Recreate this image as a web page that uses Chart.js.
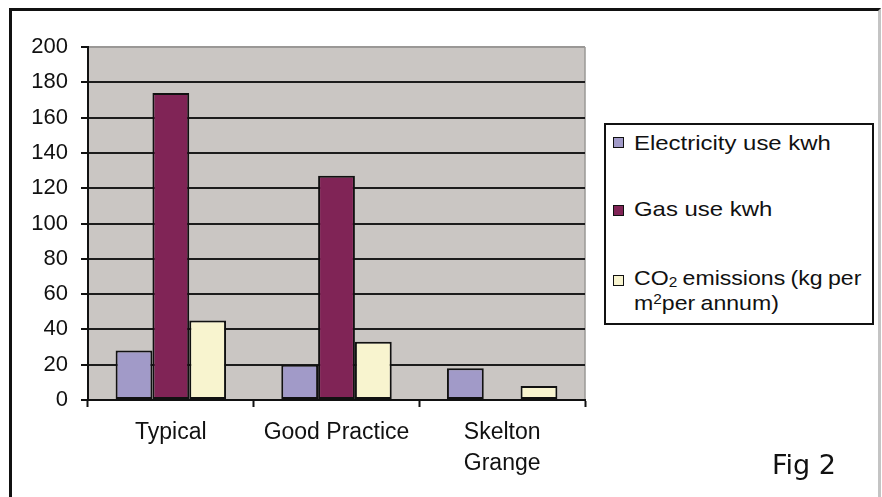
<!DOCTYPE html>
<html>
<head>
<meta charset="utf-8">
<script src="https://cdn.jsdelivr.net/npm/chart.js@4.4.0/dist/chart.umd.min.js"></script>
<style>
  html, body { margin: 0; padding: 0; background: #fff; }
  #wrap { position: relative; width: 882px; height: 497px; overflow: hidden; }
  #frame { position: absolute; left: 9px; top: 8px; width: 866px; height: 500px;
           border-top: 3px solid #111; border-left: 3px solid #111; border-right: 3px solid #c4c4c4; }
  #chartBox { position: absolute; left: 0; top: 0; width: 882px; height: 497px; }
  #legend { position: absolute; left: 604px; top: 123px; width: 266px; height: 198px;
            border: 2px solid #111; background: #fff;
            font-family: "Liberation Sans", Arial, sans-serif; font-size: 21px; color: #111; }
  .swatch { position: absolute; left: 7px; width: 9px; height: 9px; border: 1.5px solid #111; }
  .label { position: absolute; left: 28px; white-space: nowrap; line-height: 25px;
           transform: scaleX(1.14); transform-origin: left top; }
  .label.tight { word-spacing: -1px; transform: scaleX(1.1); }
  .label sub { font-size: 14px; vertical-align: -2px; line-height: 0; }
  .label sup { font-size: 14px; vertical-align: 6px; line-height: 0; }
  #fig { position: absolute; left: 772px; top: 449px; font-family: "DejaVu Sans", sans-serif; font-size: 27px; color: #111; }
</style>
</head>
<body>
<div id="wrap">
  <div id="frame"></div>
  <div id="chartBox"><canvas id="chart"></canvas></div>
  <div id="legend"></div>
  <div id="fig">Fig 2</div>
</div>
<script>
// Categories and series
const categories = ["Typical", "Good Practice", ["Skelton", "Grange"]];
const electricityUse = [28, 20, 18];
const gasUse = [174, 127, 0];
const co2Emissions = [45, 33, 8];
const seriesNames = ["Electricity use kwh", "Gas use kwh", "CO<sub>2</sub> emissions (kg per<br>m<sup>2</sup>per annum)"];
const seriesColors = ["#a19ac8", "#802456", "#f8f4cf"];
const yTicks = [0, 20, 40, 60, 80, 100, 120, 140, 160, 180, 200];

const fontFamily = "'Liberation Sans', Arial, sans-serif";

// grey plot background
const plotBackground = {
    id: "plotBackground",
    beforeDraw(chart) {
        const { ctx, chartArea } = chart;
        ctx.save();
        ctx.fillStyle = "#cac6c3";
        ctx.fillRect(chartArea.left, chartArea.top, chartArea.right - chartArea.left, chartArea.bottom - chartArea.top);
        ctx.strokeStyle = "#9a9896";
        ctx.lineWidth = 1.5;
        ctx.beginPath();
        ctx.moveTo(chartArea.right, chartArea.top);
        ctx.lineTo(chartArea.right, chartArea.bottom);
        ctx.stroke();
        ctx.restore();
    }
};

const seriesValues = [electricityUse, gasUse, co2Emissions];
const datasets = seriesValues.map((vals, i) => ({
    label: seriesNames[i],
    data: vals,
    backgroundColor: seriesColors[i],
    borderColor: "#111",
    borderWidth: 2,
    borderSkipped: false,
    categoryPercentage: 3 / 4.5,
    barPercentage: 1.0
}));

new Chart(document.getElementById("chart").getContext("2d"), {
    type: "bar",
    data: { labels: categories, datasets: datasets },
    options: {
        responsive: true,
        maintainAspectRatio: false,
        animation: false,
        layout: { padding: { left: 0, top: 47, right: 297, bottom: 0 } },
        plugins: { legend: { display: false }, tooltip: { enabled: false } },
        scales: {
            x: {
                grid: { offset: true, drawOnChartArea: false, drawTicks: true, tickLength: 7, tickColor: "#111", tickWidth: 2 },
                border: { display: true, color: "#111", width: 2 },
                ticks: { color: "#111", font: { family: fontFamily, size: 23, lineHeight: 1.35 }, padding: 10, maxRotation: 0 },
                afterFit(scale) { scale.height = 97; }
            },
            y: {
                min: 0,
                max: 200,
                afterBuildTicks(scale) { scale.ticks = yTicks.map(v => ({ value: v })); },
                grid: {
                    color: ctx => (ctx.tick && ctx.tick.value === 200) ? "#9a9896" : "#1c1c1c",
                    lineWidth: 2,
                    tickLength: 7,
                    tickColor: "#111",
                    tickWidth: 2
                },
                border: { display: true, color: "#111", width: 2 },
                ticks: { color: "#111", font: { family: fontFamily, size: 22 }, padding: 13 },
                afterFit(scale) { scale.width = 88; }
            }
        }
    },
    plugins: [plotBackground]
});

// HTML legend built from the series
const legend = document.getElementById("legend");
const labelTops = [5, 71, 140];
const swatchTops = [12, 80, 150];
seriesNames.forEach((name, i) => {
    const sw = document.createElement("div");
    sw.className = "swatch";
    sw.style.top = swatchTops[i] + "px";
    sw.style.background = seriesColors[i];
    legend.appendChild(sw);
    const lb = document.createElement("div");
    lb.className = i === 2 ? "label tight" : "label";
    lb.style.top = labelTops[i] + "px";
    lb.innerHTML = name;
    legend.appendChild(lb);
});
</script>
</body>
</html>
